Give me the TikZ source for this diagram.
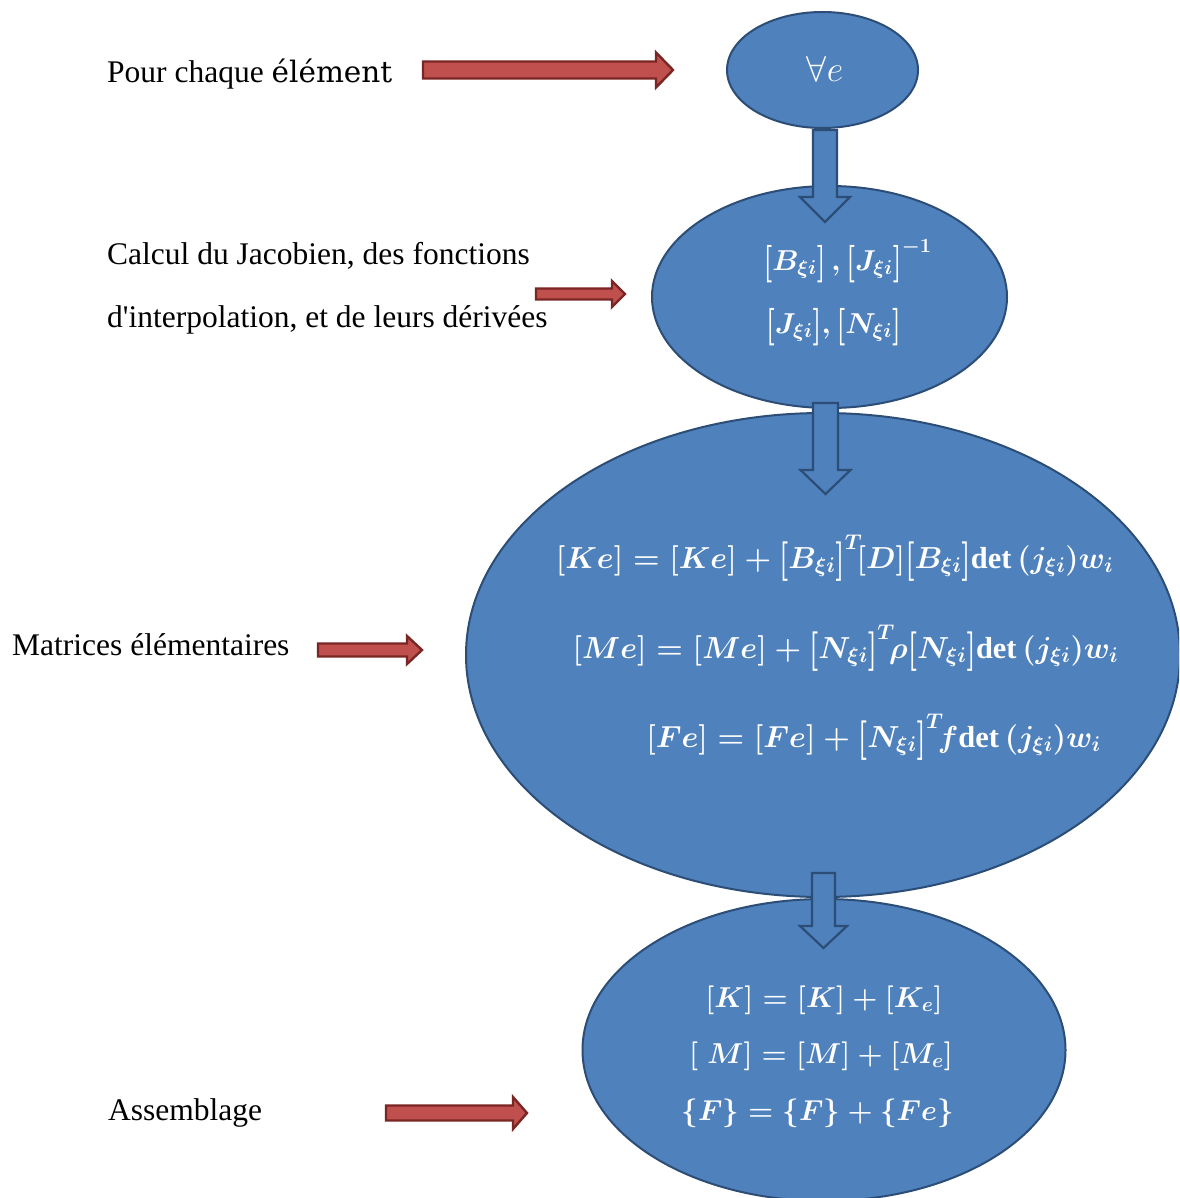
\documentclass[tikz,border=0pt]{standalone}
\usepackage{fix-cm}
\usepackage{graphicx}
\usepackage{fontspec}
\setmainfont{Liberation Serif}
\newfontfamily\cambfont{DejaVu Serif}
\newfontfamily\straightfont{Liberation Serif}
\usetikzlibrary{shapes.geometric,calc}
\definecolor{bluefill}{HTML}{4F81BD}
\definecolor{blueline}{HTML}{2C4D75}
\definecolor{redfill}{HTML}{C0504D}
\definecolor{redline}{HTML}{7A2624}
\newcommand{\dett}{\textbf{det}\,}
\newcommand{\tallbr}[1]{\raisebox{-0.11em}{\scalebox{1}[1.3]{$#1$}}}
\newcommand{\bk}[1]{\mathopen{\tallbr{[}}#1\mathclose{\tallbr{]}}}
\tikzset{
  blob/.style={ellipse, draw=blueline, fill=bluefill, line width=2pt, inner sep=0pt},
  downblk/.style={draw=blueline, fill=bluefill, line width=2.2pt, line join=miter},
  redblk/.style={draw=redline, fill=redfill, line width=2.4pt, line join=miter},
  lbl/.style={inner sep=0pt, font=\fontsize{31.5}{38}\selectfont, text=black},
  eq/.style={inner sep=0pt, text=white, font=\fontsize{28.8}{35}\selectfont\boldmath},
  eqbig/.style={inner sep=0pt, text=white, font=\fontsize{30.4}{36}\selectfont\boldmath},
  pics/downarrow/.style n args={4}{code={
    \draw[downblk] (-#3,0) -- (-#3,#1-#2) -- (-#4,#1-#2) -- (0,#1) -- (#4,#1-#2) -- (#3,#1-#2) -- (#3,0) -- cycle;}},
  pics/rightarrow/.style n args={4}{code={
    \draw[redblk] (0,-#3) -- (#1-#2,-#3) -- (#1-#2,-#4) -- (#1,0) -- (#1-#2,#4) -- (#1-#2,#3) -- (0,#3) -- cycle;}},
}
\begin{document}
\begin{tikzpicture}[x=1pt,y=-1pt]
\clip (0,0) rectangle (1179,1198);
\fill[white] (0,0) rectangle (1179,1198);

% ellipses
\node[blob, minimum width=191pt, minimum height=116pt] (e1) at (822.5,70) {};
\node[blob, minimum width=355pt, minimum height=222pt] (e2) at (829.5,297) {};
\node[blob, minimum width=714pt, minimum height=484pt] (e3) at (823,655) {};
\node[blob, minimum width=483pt, minimum height=302pt] (e4) at (824,1050) {};

% down block arrows
\pic at ($(e1.south)+(2.5,1)$) {downarrow={92}{25}{12}{25}};
\pic at ($(e2.south)+(-4,-6)$) {downarrow={91}{24}{12.5}{25}};
\pic at ($(e3.south)+(0.5,-25)$) {downarrow={75}{22}{11.5}{23.5}};

% contents
\node[eq, font=\fontsize{36}{42}\selectfont, anchor=base] (m1) at (825,82) {$\forall e$};
\node[eq, anchor=base] (m2a) at (847.5,270) {$\bk{B_{\xi i}}\,,\bk{J_{\xi i}}^{-1}$};
\node[eq, anchor=base] (m2b) at (833.5,333) {$\bk{J_{\xi i}},\bk{N_{\xi i}}$};
\node[eqbig, anchor=base] (m3a) at (834.5,568) {$[Ke]=[Ke]+\bk{B_{\xi i}}^{T}\![D]\bk{B_{\xi i}}\dett(j_{\xi i})w_i$};
\node[eqbig, anchor=base] (m3b) at (845.5,658) {$[Me]=[Me]+\bk{N_{\xi i}}^{T}\!\rho\bk{N_{\xi i}}\dett(j_{\xi i})w_i$};
\node[eqbig, anchor=base] (m3c) at (873.5,747) {$[Fe]=[Fe]+\bk{N_{\xi i}}^{T}\!f\dett(j_{\xi i})w_i$};
\node[eq, anchor=base] (m4a) at (824,1007) {$[K]=[K]+[K_e]$};
\node[eq, anchor=base] (m4b) at (821,1063) {$[\;M]=[M]+[M_e]$};
\node[eq, anchor=base] (m4c) at (817.5,1120) {$\{F\}=\{F\}+\{Fe\}$};

% left labels
\node[lbl, anchor=base west] (t1) at (107,83) {Pour chaque {\cambfont\fontsize{29.5}{35}\selectfont élément}};
\node[lbl, anchor=base west] (t2) at (107,265) {Calcul du Jacobien, des fonctions};
\node[lbl, anchor=base west] (t3) at (107,327) {{\straightfont d'interpolation}, et de leurs dérivées};
\node[lbl, anchor=base west] (t4) at (12,655) {Matrices élémentaires};
\node[lbl, anchor=base west] (t5) at (108,1120) {Assemblage};

% red block arrows
\coordinate (r1) at (423,70);
\coordinate (r2) at (536,294);
\coordinate (r3) at (318,650);
\coordinate (r4) at (386,1113);
\pic at (r1) {rightarrow={250}{17}{8.5}{17.5}};
\pic at (r2) {rightarrow={89}{13}{5.5}{13}};
\pic at (r3) {rightarrow={104}{15}{6.5}{14}};
\pic at (r4) {rightarrow={141}{14}{7.5}{16}};
\end{tikzpicture}
\end{document}
